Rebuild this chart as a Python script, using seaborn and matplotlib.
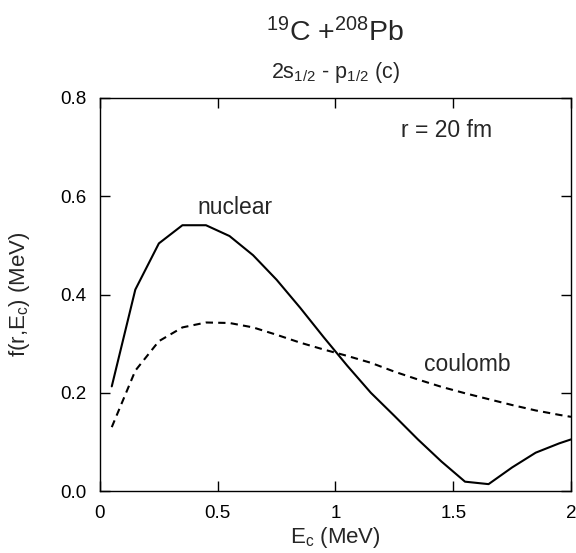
import numpy as np
import pandas as pd
import matplotlib
matplotlib.use("Agg")
import matplotlib.pyplot as plt
import seaborn as sns

# energies (MeV)
e_c = [0.05, 0.15, 0.25, 0.35, 0.45, 0.55, 0.65, 0.75, 0.85, 0.95, 1.05,
       1.15, 1.25, 1.35, 1.45, 1.55, 1.65, 1.75, 1.85, 1.95, 2.0]
nuclear = [0.213, 0.41, 0.504, 0.541, 0.541, 0.519, 0.48, 0.43, 0.373, 0.313,
           0.255, 0.2, 0.153, 0.105, 0.06, 0.019, 0.014, 0.048, 0.078, 0.097, 0.105]
coulomb = [0.13, 0.245, 0.305, 0.333, 0.343, 0.342, 0.333, 0.318, 0.302, 0.288,
           0.275, 0.261, 0.243, 0.227, 0.212, 0.199, 0.187, 0.175, 0.164, 0.155, 0.151]

x_ticks = [0, 0.5, 1, 1.5, 2]
x_labels = ["0", "0.5", "1", "1.5", "2"]
y_ticks = [0.0, 0.2, 0.4, 0.6, 0.8]
y_labels = ["0.0", "0.2", "0.4", "0.6", "0.8"]

sns.set_theme(style="ticks")
plt.rcParams["font.family"] = ["Liberation Sans", "DejaVu Sans"]
plt.rcParams["mathtext.fontset"] = "custom"
plt.rcParams["mathtext.rm"] = "Liberation Sans"
plt.rcParams["mathtext.it"] = "Liberation Sans"
plt.rcParams["mathtext.default"] = "regular"

df = pd.DataFrame({"E": e_c, "nuclear": nuclear, "coulomb": coulomb})

fig = plt.figure(figsize=(5.76, 5.53), dpi=100)
ax = fig.add_axes([0.1736, 0.1121, 0.8177, 0.7107])

sns.lineplot(data=df, x="E", y="nuclear", ax=ax, color="black", lw=1.5)
sns.lineplot(data=df, x="E", y="coulomb", ax=ax, color="black", lw=1.5,
             linestyle=(0, (3.5, 2.5)))

ax.set_xlim(0, 2)
ax.set_ylim(0, 0.8)
ax.set_xticks(x_ticks)
ax.set_xticklabels(x_labels)
ax.set_yticks(y_ticks)
ax.set_yticklabels(y_labels)
ax.tick_params(direction="in", length=7, width=1, top=True, right=True,
               labelsize=13.5, colors="black", pad=10)
for s in ax.spines.values():
    s.set_linewidth(1)
    s.set_color("black")

ax.set_xlabel("E$_c$ (MeV)", fontsize=16, labelpad=2)
ax.set_ylabel("f(r,E$_c$) (MeV)", fontsize=16, labelpad=20)

ax.text(0.573, 0.578, "nuclear", fontsize=16.5, ha="center", va="center")
ax.text(1.558, 0.257, "coulomb", fontsize=16.5, ha="center", va="center")
ax.text(1.473, 0.733, "r = 20 fm", fontsize=16.5, ha="center", va="center")

fig.text(0.582, 0.94, "$^{19}$C +$^{208}$Pb", fontsize=20.5, ha="center", va="center")
fig.text(0.582, 0.868, "2s$_{1/2}$ - p$_{1/2}$ (c)", fontsize=15.5, ha="center", va="center")

fig.savefig("out.png", dpi=100)
